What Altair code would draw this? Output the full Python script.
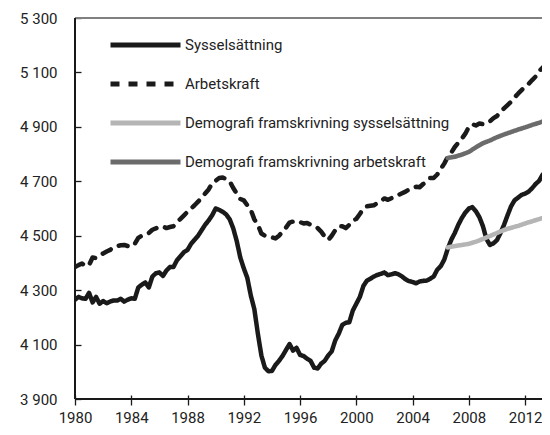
import altair as alt
import pandas as pd

FONT = "Roboto"

series_names = [
    "Sysselsättning",
    "Arbetskraft",
    "Demografi framskrivning sysselsättning",
    "Demografi framskrivning arbetskraft",
]

# Quarterly values 1980Q1 .. 2013Q2 (thousands of persons)
syss = [
    4265, 4275, 4270, 4268,   # 1980
    4290, 4255, 4275, 4250,   # 1981
    4260, 4252, 4258, 4262,   # 1982
    4262, 4268, 4258, 4265,   # 1983
    4270, 4268, 4310, 4320,   # 1984
    4328, 4310, 4350, 4362,   # 1985
    4365, 4352, 4372, 4385,   # 1986
    4385, 4410, 4425, 4440,   # 1987
    4448, 4470, 4485, 4500,   # 1988
    4520, 4540, 4556, 4575,   # 1989
    4600, 4595, 4588, 4578,   # 1990
    4560, 4527, 4480, 4420,   # 1991
    4380, 4345, 4280, 4230,   # 1992
    4140, 4060, 4015, 4002,   # 1993
    4003, 4025, 4040, 4058,   # 1994
    4080, 4102, 4078, 4088,   # 1995
    4062, 4058, 4048, 4040,   # 1996
    4015, 4012, 4030, 4040,   # 1997
    4060, 4075, 4115, 4140,   # 1998
    4172, 4180, 4182, 4225,   # 1999
    4250, 4275, 4315, 4335,   # 2000
    4342, 4350, 4356, 4360,   # 2001
    4365, 4355, 4358, 4362,   # 2002
    4358, 4350, 4340, 4333,   # 2003
    4330, 4325, 4332, 4334,   # 2004
    4335, 4342, 4350, 4375,   # 2005
    4388, 4412, 4452, 4485,   # 2006
    4510, 4540, 4565, 4585,   # 2007
    4600, 4605, 4590, 4568,   # 2008
    4535, 4488, 4466, 4472,   # 2009
    4484, 4510, 4540, 4575,   # 2010
    4608, 4630, 4640, 4650,   # 2011
    4655, 4662, 4675, 4690,   # 2012
    4702, 4725,               # 2013
]

arb = [
    4385, 4392, 4398, 4388,   # 1980
    4392, 4420, 4418, 4425,   # 1981
    4435, 4442, 4448, 4458,   # 1982
    4462, 4465, 4466, 4462,   # 1983
    4460, 4470, 4492, 4500,   # 1984
    4505, 4510, 4522, 4527,   # 1985
    4532, 4534, 4528, 4532,   # 1986
    4535, 4550, 4562, 4575,   # 1987
    4588, 4600, 4612, 4625,   # 1988
    4640, 4655, 4670, 4692,   # 1989
    4702, 4712, 4714, 4708,   # 1990
    4700, 4675, 4655, 4635,   # 1991
    4630, 4612, 4595, 4560,   # 1992
    4540, 4508, 4500, 4496,   # 1993
    4494, 4490, 4500, 4515,   # 1994
    4530, 4548, 4552, 4555,   # 1995
    4550, 4545, 4547, 4540,   # 1996
    4535, 4528, 4515, 4497,   # 1997
    4484, 4500, 4520, 4535,   # 1998
    4535, 4528, 4540, 4555,   # 1999
    4562, 4580, 4600, 4608,   # 2000
    4610, 4612, 4620, 4628,   # 2001
    4637, 4632, 4638, 4645,   # 2002
    4650, 4656, 4662, 4670,   # 2003
    4675, 4680, 4678, 4690,   # 2004
    4698, 4712, 4712, 4725,   # 2005
    4745, 4765, 4790, 4805,   # 2006
    4826, 4842, 4857, 4875,   # 2007
    4900, 4910, 4905, 4912,   # 2008
    4910, 4912, 4920, 4932,   # 2009
    4940, 4955, 4968, 4980,   # 2010
    4992, 5008, 5022, 5035,   # 2011
    5048, 5058, 5072, 5085,   # 2012
    5105, 5118,               # 2013
]

proj_years = [2006.5, 2007.0, 2007.5, 2008.0, 2008.5, 2009.0, 2009.5, 2010.0,
              2010.5, 2011.0, 2011.5, 2012.0, 2012.5, 2013.0, 2013.5]
proj_syss = [4457, 4462, 4466, 4470, 4478, 4488, 4499, 4510,
             4521, 4529, 4536, 4545, 4553, 4561, 4570]
proj_arb = [4786, 4790, 4798, 4808, 4825, 4840, 4850, 4862,
            4872, 4881, 4890, 4898, 4907, 4915, 4925]

y_ticks = [3900, 4100, 4300, 4500, 4700, 4900, 5100, 5300]
x_ticks = [1980, 1984, 1988, 1992, 1996, 2000, 2004, 2008, 2012]

rows = []
for i, v in enumerate(syss):
    rows.append({"year": 1980 + i / 4, "value": v, "serie": series_names[0]})
for i, v in enumerate(arb):
    rows.append({"year": 1980 + i / 4, "value": v, "serie": series_names[1]})
for yr, v in zip(proj_years, proj_syss):
    rows.append({"year": yr, "value": v, "serie": series_names[2]})
for yr, v in zip(proj_years, proj_arb):
    rows.append({"year": yr, "value": v, "serie": series_names[3]})
df = pd.DataFrame(rows)
df["order"] = df["serie"].map({n: i for i, n in enumerate(series_names)})

x_scale = alt.Scale(domain=[1980, 2013.2], nice=False, zero=False)
y_scale = alt.Scale(domain=[3900, 5300], nice=False, zero=False)

lines = alt.Chart(df).mark_line(strokeWidth=4.5, strokeCap="round", strokeJoin="round", clip=True).encode(
    x=alt.X("year:Q", scale=x_scale,
            axis=alt.Axis(values=x_ticks, format="d", title=None, grid=False, domain=False,
                          tickSize=10, offset=-4, tickColor="#1a1a1a", tickWidth=1.3,
                          labelFont=FONT, labelFontSize=15, labelColor="#222222",
                          labelPadding=5, labelFlush=False)),
    y=alt.Y("value:Q", scale=y_scale,
            axis=alt.Axis(values=y_ticks, title=None, grid=False, domain=False,
                          tickSize=6, offset=-6, tickColor="#1a1a1a", tickWidth=1.3,
                          labelExpr="replace(format(datum.value, ','), ',', ' ')",
                          labelFont=FONT, labelFontSize=15, labelColor="#222222",
                          labelPadding=18)),
    color=alt.Color("serie:N",
                    scale=alt.Scale(domain=series_names,
                                    range=["#1a1a1a", "#1a1a1a", "#b5b5b5", "#6b6b6b"]),
                    legend=alt.Legend(title=None, orient="none", legendX=33, legendY=17,
                                      symbolType="stroke", symbolSize=4900,
                                      symbolStrokeWidth=5, labelFont=FONT,
                                      labelFontSize=15, labelColor="#222222",
                                      labelOffset=2, clipHeight=20, rowPadding=19,
                                      padding=0, labelLimit=400)),
    strokeDash=alt.StrokeDash("serie:N",
                              scale=alt.Scale(domain=series_names,
                                              range=[[1, 0], [9, 9], [1, 0], [1, 0]]),
                              legend=None),
    order=alt.Order("order:Q"),
    detail="serie:N",
)

left_line = alt.Chart(df).mark_rule(color="#1a1a1a", strokeWidth=1.5).encode(
    x=alt.datum(1980, scale=x_scale)
)
bottom_line = alt.Chart(df).mark_rule(color="#1a1a1a", strokeWidth=1.5).encode(
    y=alt.datum(3900, scale=y_scale)
)
top_line = alt.Chart(df).mark_rule(color="#808080", strokeWidth=1.5).encode(
    y=alt.datum(5300, scale=y_scale)
)

chart = alt.layer(top_line, lines, left_line, bottom_line).properties(
    width=467, height=381,
    autosize=alt.AutoSizeParams(type="none"),
    padding={"left": 67, "top": 10, "right": 0, "bottom": 26},
).configure_view(stroke=None).configure(background="white")

chart.save("out.html", embed_options={"renderer": "svg", "actions": False})
